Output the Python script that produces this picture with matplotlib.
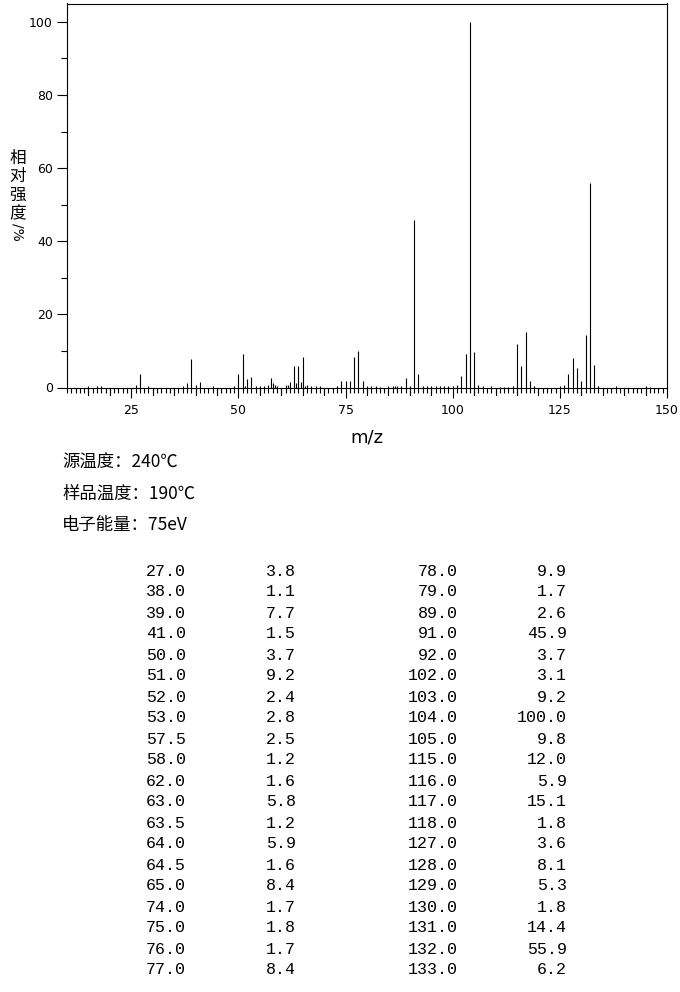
import matplotlib
matplotlib.use("Agg")
import matplotlib.pyplot as plt
from matplotlib.ticker import MultipleLocator

plt.rcParams['font.family'] = ['DejaVu Sans', 'Noto Sans CJK SC']

# peaks listed in the table (m/z, relative intensity %)
table_mz = [27.0, 38.0, 39.0, 41.0, 50.0, 51.0, 52.0, 53.0, 57.5, 58.0,
            62.0, 63.0, 63.5, 64.0, 64.5, 65.0, 74.0, 75.0, 76.0, 77.0,
            78.0, 79.0, 89.0, 91.0, 92.0, 102.0, 103.0, 104.0, 105.0, 115.0,
            116.0, 117.0, 118.0, 127.0, 128.0, 129.0, 130.0, 131.0, 132.0, 133.0]
table_int = [3.8, 1.1, 7.7, 1.5, 3.7, 9.2, 2.4, 2.8, 2.5, 1.2,
             1.6, 5.8, 1.2, 5.9, 1.6, 8.4, 1.7, 1.8, 1.7, 8.4,
             9.9, 1.7, 2.6, 45.9, 3.7, 3.1, 9.2, 100.0, 9.8, 12.0,
             5.9, 15.1, 1.8, 3.6, 8.1, 5.3, 1.8, 14.4, 55.9, 6.2]

# weak peaks (< 1 %) seen only in the spectrum
weak_mz = [15, 17, 18, 26, 29, 37, 40, 44, 49, 51.5, 54, 55, 56, 57, 58.5,
           59, 61, 61.5, 65.5, 66, 67, 68, 69, 73, 80, 81, 82, 83, 85, 86,
           86.5, 87, 88, 90, 93, 94, 95, 96, 97, 98, 99, 100, 101, 106, 107,
           109, 111, 112, 113, 114, 119, 125, 126, 134, 138, 145, 146]
weak_int = [0.3, 0.4, 0.5, 0.6, 0.4, 0.5, 0.6, 0.3, 0.4, 0.4, 0.5, 0.3, 0.3,
            0.6, 0.6, 0.3, 0.6, 0.6, 0.5, 0.7, 0.5, 0.3, 0.3, 0.4, 0.4, 0.3,
            0.3, 0.2, 0.4, 0.5, 0.5, 0.4, 0.4, 0.5, 0.3, 0.3, 0.3, 0.3, 0.4,
            0.4, 0.3, 0.3, 0.6, 0.8, 0.3, 0.3, 0.2, 0.2, 0.2, 0.3, 0.4, 0.3,
            0.7, 0.3, 0.3, 0.3, 0.2]

info_lines = ["源温度：240℃", "样品温度：190℃", "电子能量：75eV"]

fig = plt.figure(figsize=(6.8, 9.92), dpi=100)
ax_h = 384
ax = fig.add_axes([67 / 680, 1 - 387.5 / 992, 600 / 680, ax_h / 992])

ax.vlines(table_mz + weak_mz, 0, table_int + weak_int, color='black', linewidth=0.8)

ax.set_xlim(10, 150)
ax.set_ylim(0, 105)

ax.xaxis.set_major_locator(MultipleLocator(25))
ax.xaxis.set_minor_locator(MultipleLocator(1))
ax.yaxis.set_major_locator(MultipleLocator(20))
ax.yaxis.set_minor_locator(MultipleLocator(10))
ax.tick_params(axis='both', which='both', direction='out', width=0.8,
               labelsize=9, top=False, right=False)
ax.tick_params(axis='x', which='major', length=7.2, pad=5)
ax.tick_params(axis='x', which='minor', length=3.6)
ax.tick_params(axis='y', which='major', length=7.2, pad=3)
ax.tick_params(axis='y', which='minor', length=4.3)
for s in ax.spines.values():
    s.set_linewidth(0.8)

# medium ticks every 5 on x axis (7 px long)
for v in range(15, 150, 5):
    if v % 25:
        ax.plot([v, v], [0, -7 / ax_h], color='black', linewidth=0.8,
                clip_on=False, transform=ax.get_xaxis_transform())
ax.set_xlabel('m/z', fontsize=13, labelpad=8)

# vertical y label: CJK upright, "/%" rotated
for i, ch in enumerate("相对强度"):
    fig.text(18 / 680, 1 - (158 + i * 18.5) / 992, ch, fontsize=12,
             family=['Noto Sans CJK SC'], ha='center', va='center')
fig.text(17 / 680, 1 - 232 / 992, "/%", fontsize=10, rotation=-90,
         ha='center', va='center')

for i, line in enumerate(info_lines):
    fig.text(62 / 680, 1 - (463 + i * 31) / 992, line, fontsize=12.5,
             family=['Noto Sans CJK SC', 'DejaVu Sans'], va='center', ha='left')

# peak table, two column pairs
half = 20
col_x = [186, 296, 458, 567]
for i in range(half):
    y = 1 - (571 + i * 21) / 992
    vals = [table_mz[i], table_int[i], table_mz[i + half], table_int[i + half]]
    for x, v in zip(col_x, vals):
        fig.text(x / 680, y, f"{v:.1f}", fontsize=12, family='Liberation Mono',
                 ha='right', va='center')

fig.savefig('out.png', dpi=100)
